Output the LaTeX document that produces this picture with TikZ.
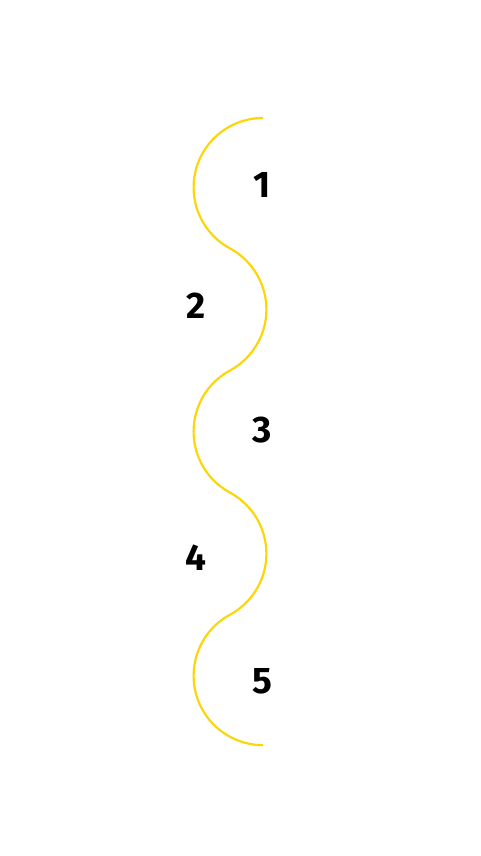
\documentclass[tikz,border=0pt]{standalone}
\usepackage{fontspec}
\setmainfont{Fira Sans}
\usepackage{xcolor}
\definecolor{sunny}{RGB}{250, 214, 10}
\usepackage{tikz}
\usetikzlibrary{calc}

\begin{document}
\begin{tikzpicture}[
    x=1pt, y=1pt,
    wave/.style={draw=sunny, line width=2.2pt},
    num/.style={font=\fontsize{37}{37}\selectfont\bfseries, inner sep=0pt, text=black}
]
\useasboundingbox (0,0) rectangle (480,856);

% ==================== WAVY PATH ====================
\coordinate (top) at (263,738);
\draw[wave] (top)
    arc[start angle=90, end angle=241.6, radius=69.4]
    arc[start angle=61.6, end angle=-61.6, radius=69.4]
    arc[start angle=118.4, end angle=241.6, radius=69.4]
    arc[start angle=61.6, end angle=-61.6, radius=69.4]
    arc[start angle=118.4, end angle=270, radius=69.4] coordinate (bottom);

% ==================== STEP NUMBERS ====================
\node[num] (n1) at (262,671) {1};
\node[num] (n2) at (196,550) {2};
\node[num] (n3) at (262,426) {3};
\node[num] (n4) at (196,298) {4};
\node[num] (n5) at (262,175) {5};

\end{tikzpicture}
\end{document}
